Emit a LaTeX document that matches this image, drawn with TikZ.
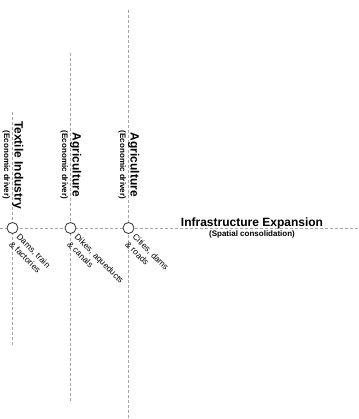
\documentclass[tikz,border=0pt]{standalone}
\usepackage{fontspec}
\setmainfont{Liberation Sans}
\usetikzlibrary{calc}
\begin{document}
\begin{tikzpicture}[x=1pt,y=-1pt,
  guide/.style={draw=gray!70, line width=0.8pt, dash pattern=on 3pt off 2pt},
  milestone/.style={circle, draw=black!80, fill=white, line width=0.8pt, minimum size=11pt, inner sep=0pt},
  titletext/.style={inner sep=0pt, font=\fontsize{12}{14}\selectfont\bfseries},
  subtext/.style={inner sep=0pt, font=\fontsize{8}{9.6}\selectfont\bfseries},
  itemtext/.style={inner sep=0pt, rotate=-45, anchor=north west, align=left, font=\fontsize{8.5}{10.5}\selectfont}]
\useasboundingbox (0,0) rectangle (358,419);
% guide lines
\coordinate (h0) at (0,228);
\coordinate (h1) at (358,228);
\coordinate (a0) at (12.5,112);
\coordinate (a1) at (12.5,345);
\coordinate (b0) at (70.5,53);
\coordinate (b1) at (70.5,403);
\coordinate (c0) at (128.5,10);
\coordinate (c1) at (128.5,419);
\draw[guide] (h0) -- (h1);
\draw[guide] (a0) -- (a1);
\draw[guide] (b0) -- (b1);
\draw[guide] (c0) -- (c1);
% milestones
\node[milestone] (ma) at (12.5,228) {};
\node[milestone] (mb) at (70.5,228) {};
\node[milestone] (mc) at (128.5,228) {};
% vertical titles
\node[titletext, rotate=-90, anchor=base] (ta) at (14.7,165) {Textile Industry};
\node[subtext, rotate=-90, anchor=base] (sa) at (4.2,165) {(Economic driver)};
\node[titletext, rotate=-90, anchor=base] (tb) at (72.7,165) {Agriculture};
\node[subtext, rotate=-90, anchor=base] (sb) at (62.2,165) {(Economic driver)};
\node[titletext, rotate=-90, anchor=base] (tc) at (130.7,165) {Agriculture};
\node[subtext, rotate=-90, anchor=base] (sc) at (120.2,165) {(Economic driver)};
% horizontal title
\node[titletext, anchor=base] (th) at (252,226) {Infrastructure Expansion};
\node[subtext, anchor=base] (sh) at (252,236.8) {(Spatial consolidation)};
% item labels
\node[itemtext] (la) at ($(ma)+(8,5)$) {Dams, train\\\& factories};
\node[itemtext] (lb) at ($(mb)+(8,5)$) {Dikes, aqueducts\\\& canals};
\node[itemtext] (lc) at ($(mc)+(8,5)$) {Cities, dams\\\& roads};
\end{tikzpicture}
\end{document}
